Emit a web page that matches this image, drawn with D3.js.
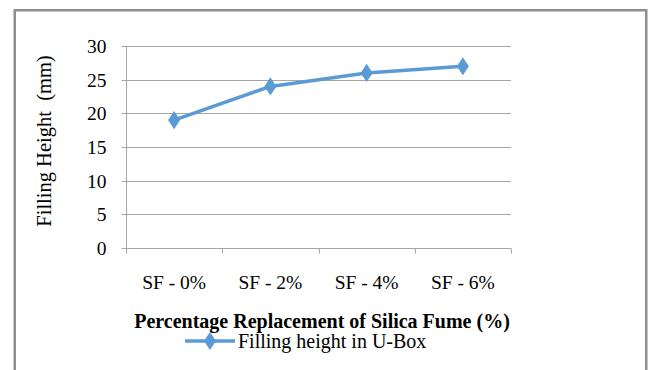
<!DOCTYPE html>
<html><head><meta charset="utf-8">
<script src="https://cdn.jsdelivr.net/npm/d3@7"></script>
<style>html,body{margin:0;padding:0;background:#fff;}svg{display:block;}</style>
</head><body>
<script>
const categories = ["SF - 0%", "SF - 2%", "SF - 4%", "SF - 6%"];
const values = [19, 24, 26, 27];
const yTicks = [0, 5, 10, 15, 20, 25, 30];
const seriesName = "Filling height in U-Box";
const xTitle = "Percentage Replacement of Silica Fume (%)";
const yTitle = "Filling Height\u00a0\u00a0(mm)";

const W = 653, H = 370;
const svg = d3.select("body").append("svg").attr("width", W).attr("height", H);
const font = "'Liberation Serif','Times New Roman',serif";

svg.append("rect").attr("x", 14.75).attr("y", 10.25).attr("width", 631.5).attr("height", 380)
  .attr("fill", "#fff").attr("stroke", "#8e8e8e").attr("stroke-width", 2.5);

const L = 126, R = 511, T = 46, B = 248;
const x = d3.scaleBand().domain(categories).range([L, R]);
const y = d3.scaleLinear().domain([0, 30]).range([B, T]);

const g = svg.append("g");
g.selectAll("line.grid").data(yTicks.filter(d => d > 0)).enter().append("line")
  .attr("x1", L).attr("x2", R).attr("y1", d => Math.round(y(d)) + 0.5).attr("y2", d => Math.round(y(d)) + 0.5)
  .attr("stroke", "#a6a6a6").attr("stroke-width", 1);

const yAxis = d3.axisLeft(y).tickValues(yTicks).tickSize(5).tickPadding(15);
const ya = svg.append("g").attr("transform", `translate(${L + 0.5},0)`).call(yAxis);
ya.select(".domain").attr("stroke", "#a6a6a6").attr("d", `M-5,${T}.5H0V${B}.5`);
ya.selectAll(".tick line").attr("stroke", "#a6a6a6");
ya.selectAll(".tick").attr("transform", d => `translate(0,${Math.round(y(d)) + 0.5})`);
ya.selectAll("text").attr("font-family", font).attr("font-size", 19.5).attr("fill", "#000").attr("dy", "0.33em");

const xa = svg.append("g").attr("transform", `translate(0,${B + 0.5})`);
xa.append("line").attr("x1", L).attr("x2", R).attr("y1", 0).attr("y2", 0).attr("stroke", "#a6a6a6");
const bounds = categories.map(c => x(c)).concat([x(categories[categories.length - 1]) + x.bandwidth()]);
xa.selectAll("line.t").data(bounds).enter().append("line")
  .attr("x1", d => Math.round(d) + 0.5).attr("x2", d => Math.round(d) + 0.5).attr("y1", 0).attr("y2", 5)
  .attr("stroke", "#a6a6a6");
xa.selectAll("text").data(categories).enter().append("text")
  .attr("x", d => x(d) + x.bandwidth() / 2).attr("y", 40).attr("text-anchor", "middle")
  .attr("font-family", font).attr("font-size", 19.5).attr("fill", "#000").text(d => d);

const line = d3.line().x((d, i) => x(categories[i]) + x.bandwidth() / 2).y(d => y(d));
svg.append("path").datum(values).attr("d", line).attr("fill", "none")
  .attr("stroke", "#5b9bd5").attr("stroke-width", 3.5).attr("stroke-linejoin", "round");
const sym = d3.symbol().type(d3.symbolDiamond).size(95);
svg.selectAll("path.m").data(values).enter().append("path")
  .attr("transform", (d, i) => `translate(${x(categories[i]) + x.bandwidth() / 2},${y(d)}) scale(1.15,1)`)
  .attr("d", sym).attr("fill", "#5b9bd5");

svg.append("text").attr("x", 322).attr("y", 328).attr("text-anchor", "middle")
  .attr("font-family", font).attr("font-size", 20).attr("font-weight", "bold").attr("fill", "#000").text(xTitle);
svg.append("text").attr("transform", `translate(51,141) rotate(-90)`).attr("text-anchor", "middle")
  .attr("font-family", font).attr("font-size", 20.5).attr("fill", "#000").text(yTitle);

svg.append("line").attr("x1", 185).attr("x2", 235).attr("y1", 341).attr("y2", 341)
  .attr("stroke", "#5b9bd5").attr("stroke-width", 3.5);
svg.append("path").attr("transform", "translate(210,341) scale(1.15,1)").attr("d", sym).attr("fill", "#5b9bd5");
svg.append("text").attr("x", 238).attr("y", 348).attr("font-family", font).attr("font-size", 20)
  .attr("fill", "#000").text(seriesName);
</script>
</body></html>
